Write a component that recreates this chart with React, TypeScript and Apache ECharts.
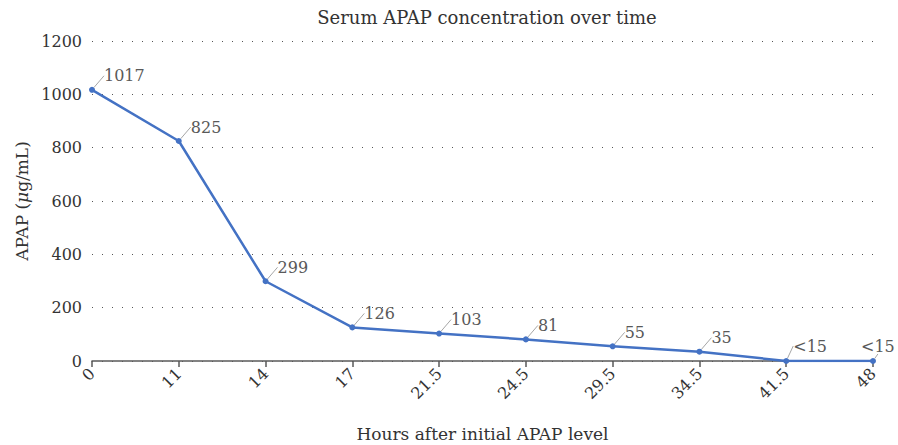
import React, { useEffect, useRef } from "react";
import * as echarts from "echarts";

const categories = ["0", "11", "14", "17", "21.5", "24.5", "29.5", "34.5", "41.5", "48"];
const values = [1017, 825, 299, 126, 103, 81, 55, 35, 0, 0];
const labels = ["1017", "825", "299", "126", "103", "81", "55", "35", "<15", "<15"];
const yTicks = [0, 200, 400, 600, 800, 1000, 1200];

const FONT = "DejaVu Serif";

export default function App() {
  const ref = useRef<HTMLDivElement>(null);
  useEffect(() => {
    if (!ref.current) return;
    const chart = echarts.init(ref.current, undefined, { renderer: "svg" });
    chart.setOption({
      animation: false,
      textStyle: { fontFamily: FONT, fontSize: 16, color: "#333" },
      title: {
        text: "Serum APAP concentration over time",
        left: 482,
        top: 3,
        textAlign: "center",
        textStyle: { fontFamily: FONT, fontSize: 18, fontWeight: "normal", color: "#333" },
      },
      grid: { left: 92, right: 25, top: 41, bottom: 84, outerBoundsMode: "none", containLabel: false },
      xAxis: {
        type: "category",
        data: categories,
        boundaryGap: false,
        name: "Hours after initial APAP level",
        nameLocation: "middle",
        nameGap: 64,
        nameTextStyle: { fontFamily: FONT, fontSize: 17, color: "#333" },
        axisLine: { lineStyle: { color: "#595959", width: 1.5 } },
        axisTick: { show: true, length: 6, lineStyle: { color: "#595959", width: 1.5 } },
        axisLabel: { rotate: 45, fontFamily: FONT, fontSize: 16, color: "#333", margin: 10 },
        splitLine: { show: false },
      },
      yAxis: {
        type: "value",
        min: yTicks[0],
        max: yTicks[yTicks.length - 1],
        interval: 200,
        name: "APAP ({i|μ}g/mL)",
        nameLocation: "middle",
        nameGap: 62,
        nameTextStyle: {
          fontFamily: FONT,
          fontSize: 17,
          color: "#333",
          rich: { i: { fontFamily: FONT, fontSize: 17, fontStyle: "italic", color: "#333" } },
        },
        axisLine: { show: false },
        axisTick: { show: false },
        axisLabel: {
          fontFamily: FONT,
          fontSize: 16,
          color: "#333",
          margin: 10,
          formatter: (v: number) => String(v),
        },
        splitLine: { lineStyle: { color: "#555", type: [1, 9], width: 1 } },
      },
      series: [
        {
          type: "line",
          data: values,
          symbol: "circle",
          symbolSize: 6,
          lineStyle: { color: "#4472C4", width: 2.5 },
          itemStyle: { color: "#4472C4" },
          label: {
            show: true,
            position: "right",
            distance: 6,
            fontFamily: FONT,
            fontSize: 16,
            color: "#595959",
            formatter: (p: any) => labels[p.dataIndex],
          },
          labelLayout: (params: any) =>
            params.dataIndex === 9
              ? { dx: -21, dy: -15 }
              : params.dataIndex === 8
              ? { dx: -2, dy: -15 }
              : { dx: 3, dy: -14 },
          labelLine: { show: true, lineStyle: { color: "#a6a6a6", width: 1 } },
        },
      ],
    });
    return () => chart.dispose();
  }, []);
  return <div ref={ref} style={{ width: 898, height: 445, position: "absolute", left: 0, top: 0 }} />;
}
